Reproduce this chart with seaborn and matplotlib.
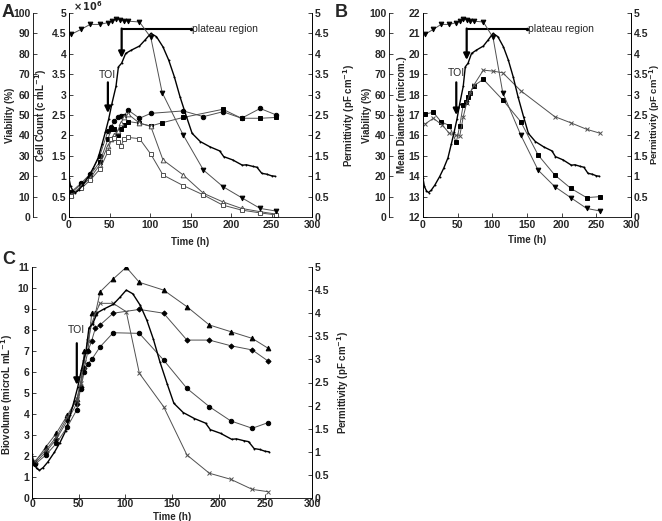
import matplotlib
matplotlib.use('Agg')
import matplotlib.pyplot as plt
from matplotlib.ticker import FormatStrFormatter, MultipleLocator
import seaborn as sns

# ---- data ----
# viability (%), shared by panels A and B
t_viab = [3, 15, 26, 38, 48, 53, 58, 63, 68, 73, 87, 101, 115, 141, 166, 190, 213, 236, 256]
viab = [89.6, 92, 94.4, 94.4, 95.3, 96, 97, 96.6, 96, 96, 95.6, 88, 61, 40.2, 23, 14.9, 9.5, 4.2, 2.9]

# on-line permittivity (pF/cm), shared by all panels
t_perm = [0, 2, 5, 8, 12, 17, 24, 30, 36, 41, 45, 49, 53, 58, 61, 65, 70, 77, 87, 94,
          101, 108, 116, 123, 130, 137, 145, 152, 162, 174, 186, 191, 202, 214, 219,
          227, 232, 238, 244, 250, 254]
perm = [0.95, 0.75, 0.64, 0.6, 0.66, 0.78, 0.99, 1.2, 1.45, 1.8, 2.09, 2.4, 2.78, 3.2,
        3.68, 3.77, 4.01, 4.09, 4.19, 4.34, 4.5, 4.42, 4.17, 3.85, 3.44, 2.95, 2.46,
        2.05, 1.85, 1.72, 1.62, 1.48, 1.40, 1.27, 1.28, 1.24, 1.22, 1.07, 1.05, 1.01, 1.0]

# panel A: cell counts (x 10^6 cells/mL)
t_cc_circ = [3, 15, 26, 38, 48, 52, 56, 60, 64, 68, 73, 87, 101, 141, 166, 190, 213, 236, 256]
cc_circ = [0.62, 0.83, 1.05, 1.5, 2.1, 2.2, 2.35, 2.45, 2.47, 2.48, 2.62, 2.42, 2.54, 2.6,
           2.46, 2.58, 2.42, 2.66, 2.5]
t_cc_sq = [3, 15, 26, 38, 48, 52, 56, 60, 64, 68, 73, 87, 101, 115, 141, 190, 213, 236, 256]
cc_sq = [0.6, 0.8, 1.02, 1.35, 1.9, 2.15, 2.15, 2.0, 2.15, 2.25, 2.34, 2.30, 2.23, 2.31,
         2.44, 2.64, 2.42, 2.42, 2.44]
t_cc_otri = [3, 15, 26, 38, 48, 52, 56, 60, 64, 68, 73, 87, 101, 116, 141, 166, 190, 213, 236, 256]
cc_otri = [0.55, 0.75, 0.95, 1.28, 1.75, 1.9, 2.0, 2.1, 2.3, 2.45, 2.52, 2.3, 2.22, 1.4,
           1.03, 0.58, 0.37, 0.21, 0.13, 0.07]
t_cc_osq = [3, 15, 26, 38, 48, 52, 56, 60, 64, 68, 73, 87, 101, 116, 141, 166, 190, 213, 236, 256]
cc_osq = [0.52, 0.7, 0.9, 1.17, 1.6, 1.9, 1.93, 1.85, 1.74, 1.9, 1.95, 1.92, 1.54, 1.03,
          0.77, 0.54, 0.29, 0.17, 0.1, 0.05]

# panel B: mean diameter (microm.)
t_md_sq = [3, 15, 26, 38, 48, 53, 58, 62, 65, 68, 73, 87, 115, 141, 166, 190, 213, 236, 256]
md_sq = [17.05, 17.13, 16.67, 16.48, 15.66, 16.48, 17.5, 17.65, 17.9, 18.06, 18.42, 18.75,
         17.74, 16.67, 15.04, 14.06, 13.41, 12.95, 13.0]
t_md_x = [3, 15, 28, 38, 48, 53, 58, 63, 68, 73, 87, 101, 115, 141, 190, 213, 236, 256]
md_x = [16.56, 16.84, 16.5, 16.1, 16.0, 15.97, 16.9, 17.6, 18.1, 18.45, 19.2, 19.15, 19.07,
        18.19, 16.92, 16.62, 16.3, 16.1]

# panel C: biovolume (microL/mL)
t_bv_tri = [3, 15, 26, 38, 48, 52, 56, 60, 64, 68, 73, 87, 101, 115, 141, 166, 190, 213, 236, 253]
bv_tri = [1.7, 2.44, 3.08, 3.95, 4.7, 5.3, 7.0, 7.05, 8.8, 8.8, 9.82, 10.43, 10.99, 10.27,
          9.9, 9.11, 8.24, 7.92, 7.6, 7.13]
t_bv_circ = [3, 15, 26, 38, 48, 52, 56, 60, 64, 73, 87, 115, 141, 166, 190, 213, 236, 253]
bv_circ = [1.6, 2.05, 2.6, 3.4, 4.2, 5.2, 6.0, 6.4, 6.6, 7.2, 7.87, 7.84, 6.57, 5.22, 4.35,
           3.67, 3.32, 3.59]
t_bv_dia = [3, 15, 26, 38, 48, 52, 56, 60, 64, 68, 73, 87, 115, 141, 166, 190, 213, 236, 253]
bv_dia = [1.65, 2.2, 2.8, 3.7, 4.5, 5.3, 6.2, 7.0, 7.5, 8.1, 8.24, 8.8, 8.98, 8.8, 7.52,
          7.52, 7.25, 7.05, 6.52]
t_bv_x = [3, 15, 26, 38, 48, 52, 56, 60, 64, 68, 73, 87, 101, 115, 141, 166, 190, 213, 236, 253]
bv_x = [1.75, 2.3, 2.9, 3.85, 4.7, 5.5, 6.5, 7.5, 8.3, 8.8, 9.27, 9.27, 8.87, 5.94, 4.35,
        2.05, 1.18, 0.89, 0.41, 0.3]

GREY = '#505050'
LBL = dict(fontsize=7, fontweight='bold')

sns.set_style('ticks')
plt.rcParams['font.family'] = ['Liberation Sans', 'DejaVu Sans']
plt.rcParams['font.weight'] = 'bold'
plt.rcParams['font.size'] = 7.5
plt.rcParams['axes.linewidth'] = 0.6
plt.rcParams['axes.edgecolor'] = 'black'

fig = plt.figure(figsize=(6.62, 5.21), dpi=100)


def W(px):
    return px / 662


def H(px):
    return px / 521


# Function to build one panel: host axis, permittivity axis, optional viability axis
def make_panel(left, right, top, bottom, viab_px=None, xpad=2, xlabelpad=5):
    rect = [W(left), 1 - H(bottom), W(right - left), H(bottom - top)]
    ax = fig.add_axes(rect)
    ax_p = ax.twinx()
    ax_v = None
    if viab_px is not None:
        ax_v = ax.twinx()
        ax_v.yaxis.set_ticks_position('left')
        ax_v.yaxis.set_label_position('left')
        ax_v.spines['left'].set_position(('axes', (viab_px - left) / (right - left)))
        ax_v.spines['left'].set_visible(True)
        ax_v.spines['right'].set_visible(False)
        ax_v.spines['bottom'].set_visible(False)
        ax_v.set_ylim(0, 100)
        ax_v.yaxis.set_major_locator(MultipleLocator(10))
    for a in [ax, ax_p] + ([ax_v] if ax_v is not None else []):
        a.spines['top'].set_visible(False)
        a.tick_params(direction='in', length=3, width=0.6, labelsize=7.5, pad=2)
        a.patch.set_visible(False)
    ax.tick_params(axis='x', pad=xpad)
    ax_p.spines['bottom'].set_visible(False)
    ax.set_xlim(0, 300)
    ax.xaxis.set_major_locator(MultipleLocator(50))
    ax_p.set_ylim(0, 5)
    ax_p.yaxis.set_major_locator(MultipleLocator(0.5))
    ax_p.yaxis.set_major_formatter(FormatStrFormatter('%g'))
    ax_p.set_ylabel('Permittivity (pF cm$^{-1}$)', **LBL)
    ax.set_xlabel('Time (h)', labelpad=xlabelpad, **LBL)
    return ax, ax_p, ax_v


def series(a, t, v, marker, filled=True, ms=3.2):
    sns.lineplot(x=t, y=v, ax=a, color=GREY, lw=0.7, marker=marker, markersize=ms,
                 markerfacecolor='black' if filled else 'white',
                 markeredgecolor='black' if filled else GREY,
                 markeredgewidth=0.7, sort=False)


def perm_line(a):
    sns.lineplot(x=t_perm, y=perm, ax=a, color='black', lw=1.0, marker='.',
                 markersize=2.8, markeredgewidth=0, sort=False)


def arrow(a, x, y0, y1):
    a.annotate('', xy=(x, y1), xytext=(x, y0),
               arrowprops=dict(arrowstyle='-|>', color='black', lw=1.6, mutation_scale=9,
                               shrinkA=0, shrinkB=0))


def plateau(a, x0, x1, y, ytip):
    a.plot([x0, x1], [y, y], color='black', lw=1.5)
    a.plot([x1], [y], marker='o', color='black', ms=1.5)
    arrow(a, x0, y, ytip)
    a.text(x1 + 2, y, 'plateau region', fontsize=7.5, fontweight='normal', va='center')


def label_x(px, left, right):
    return (px - left) / (right - left)


# ---- panel A ----
axA, axA_p, axA_v = make_panel(69, 312, 13, 217, viab_px=33, xpad=2.5, xlabelpad=5)
axA.set_ylim(0, 5)
axA.yaxis.set_major_locator(MultipleLocator(0.5))
axA.yaxis.set_major_formatter(FormatStrFormatter('%g'))
series(axA, t_cc_circ, cc_circ, 'o', True)
series(axA, t_cc_sq, cc_sq, 's', True, 3)
series(axA, t_cc_otri, cc_otri, '^', False, 3.4)
series(axA, t_cc_osq, cc_osq, 's', False, 3)
series(axA_v, t_viab, viab, 'v', True, 3.4)
perm_line(axA_p)
axA.set_ylabel('Cell Count (c mL$^{-1}$)', **LBL)
axA.yaxis.set_label_coords(label_x(49, 69, 312), 0.5)
axA_v.set_ylabel('Viability (%)', **LBL)
axA_v.yaxis.set_label_coords(label_x(15, 69, 312), 0.5)
axA_p.yaxis.set_label_coords(label_x(341, 69, 312), 0.5)
axA.text(0.015, 1.0, r'$\times\,10^{6}$', transform=axA.transAxes, fontsize=7,
         va='bottom', ha='left', fontweight='normal')
axA_p.text(48, 3.35, 'TOI', ha='center', va='bottom', fontsize=7.5, fontweight='normal')
arrow(axA_p, 48, 3.3, 2.55)
plateau(axA_p, 65, 150, 4.62, 3.9)
fig.text(W(2), 1 - H(4), 'A', fontsize=13, fontweight='bold', va='top', ha='left')

# ---- panel B ----
axB, axB_p, axB_v = make_panel(423, 631, 13, 217, viab_px=389, xpad=2.5, xlabelpad=3)
axB.set_ylim(12, 22)
axB.yaxis.set_major_locator(MultipleLocator(1))
series(axB, t_md_sq, md_sq, 's', True, 3)
series(axB, t_md_x, md_x, 'x', False, 3.4)
series(axB_v, t_viab, viab, 'v', True, 3.4)
perm_line(axB_p)
axB.set_ylabel('Mean Diameter (microm.)', **LBL)
axB.yaxis.set_label_coords(label_x(407, 423, 631), 0.5)
axB_v.set_ylabel('Viability (%)', **LBL)
axB_v.yaxis.set_label_coords(label_x(372, 423, 631), 0.5)
axB_p.yaxis.set_label_coords(label_x(647, 423, 631), 0.5)
axB_p.yaxis.label.set_fontsize(6.8)
axB_p.text(48, 3.4, 'TOI', ha='center', va='bottom', fontsize=7.5, fontweight='normal')
arrow(axB_p, 48, 3.3, 2.5)
plateau(axB_p, 63, 150, 4.62, 3.85)
fig.text(W(335), 1 - H(4), 'B', fontsize=13, fontweight='bold', va='top', ha='left')

# ---- panel C ----
axC, axC_p, _ = make_panel(32, 312, 267, 498, xpad=1, xlabelpad=2)
axC.set_ylim(0, 11)
axC.yaxis.set_major_locator(MultipleLocator(1))
series(axC, t_bv_tri, bv_tri, '^', True, 3.4)
series(axC, t_bv_dia, bv_dia, 'D', True, 2.6)
series(axC, t_bv_circ, bv_circ, 'o', True)
series(axC, t_bv_x, bv_x, 'x', False, 3.4)
perm_line(axC_p)
axC.set_ylabel('Biovolume (microL mL$^{-1}$)', **LBL)
axC.yaxis.set_label_coords(label_x(15, 32, 312), 0.45)
axC_p.yaxis.set_label_coords(label_x(335, 32, 312), 0.5)
axC.text(48, 7.75, 'TOI', ha='center', va='bottom', fontsize=7.5, fontweight='normal')
arrow(axC_p, 48, 3.35, 2.45)
fig.text(W(2), 1 - H(251), 'C', fontsize=13, fontweight='bold', va='top', ha='left')

fig.savefig('out.png', dpi=100)
